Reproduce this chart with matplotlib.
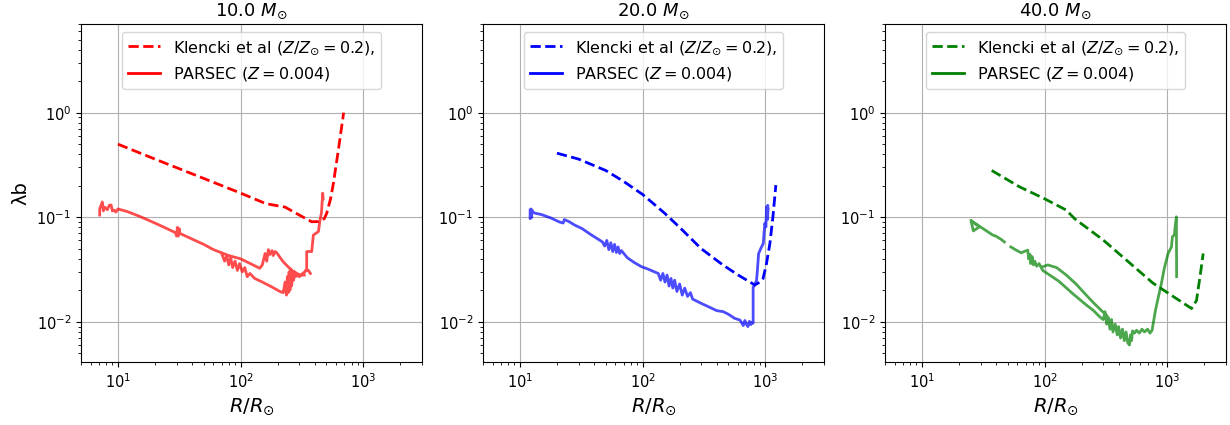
import numpy as np
import matplotlib
matplotlib.use("Agg")
import matplotlib.pyplot as plt

nan = np.nan

masses = [10.0, 20.0, 40.0]
colors = ["r", "b", "g"]

# Klencki et al curves
klencki_10_R = [10, 20, 50, 100, 160, 230, 300, 379, 430, 480, 502, 540, 569, 625, 690]
klencki_10_L = [0.5, 0.36, 0.235, 0.17, 0.135, 0.125, 0.105, 0.0905, 0.091, 0.097, 0.109, 0.15, 0.21, 0.44, 1.0]

klencki_20_R = [20, 30, 50, 70, 100, 150, 200, 300, 450, 600, 820, 900, 957, 1020, 1087, 1150, 1216]
klencki_20_L = [0.41, 0.36, 0.28, 0.22, 0.165, 0.11, 0.08, 0.05, 0.035, 0.028, 0.0225, 0.024, 0.026, 0.036, 0.056, 0.1, 0.203]

klencki_40_R = [37, 62, 100, 150, 175, 300, 500, 764, 1200, 1572, 1725, 1850, 1955]
klencki_40_L = [0.28, 0.196, 0.15, 0.117, 0.097, 0.0605, 0.036, 0.0234, 0.0165, 0.0134, 0.016, 0.028, 0.045]

# PARSEC curves (NaN separates disconnected pieces)
parsec_10_R = [7.1, 7.1, 7.46, 7.6, 7.8, 8.2, 8.5, 8.8, 9.0, 9.3, 9.6, 10, 12, 15, 20, 25, 29.5, 30, 30.5, 31, 31.5, 32,
               40, 50, 60, 80, 100, 120, 143, 150, 158, 163, 168, 173, 180, 184, 190, 196, 220, 260, 304, 330,
               nan,
               70, 74, 77, 80, 83, 86, 90, 94, 98, 103, 108, 113, 119, 130, 150, 180, 209, 222, 230, 236, 240,
               244, 248, 252, 256, 260, 265, 270, 275, 280, 290, 300, 320, 345, 345, 379, 391, 430, 443, 455, 466, 470,
               nan,
               340, 356, 370]
parsec_10_L = [0.105, 0.12, 0.14, 0.115, 0.125, 0.118, 0.13, 0.131, 0.115, 0.117, 0.112, 0.12, 0.113, 0.102, 0.088,
               0.078, 0.071, 0.066, 0.08, 0.066, 0.078, 0.07, 0.062, 0.055, 0.049, 0.043, 0.040, 0.036, 0.0325, 0.035,
               0.045, 0.038, 0.049, 0.044, 0.048, 0.043, 0.047, 0.046, 0.038, 0.031, 0.028, 0.028,
               nan,
               0.045, 0.038, 0.043, 0.035, 0.041, 0.033, 0.038, 0.031, 0.036, 0.030, 0.033, 0.027, 0.029, 0.026,
               0.024, 0.0215, 0.0195, 0.019, 0.024, 0.018, 0.027, 0.019, 0.030, 0.020, 0.032, 0.022, 0.029, 0.025,
               0.030, 0.027, 0.028, 0.027, 0.029, 0.031, 0.047, 0.047, 0.0675, 0.073, 0.094, 0.11, 0.17, 0.15,
               nan,
               0.031, 0.031, 0.029]

parsec_20_R = [12.1, 12.1, 12.5, 12.3, 13, 15, 18, 21, 22.5, 23, 25, 28, 32, 38, 44, 47, 49, 51, 53, 55, 57, 59,
               61, 63, 65, 67, 75, 85, 98, 110, 125, 134, 140, 146, 152, 158, 164, 170, 176, 182, 190, 200, 210,
               220, 232, 245, 255, 266, 300, 350, 400, 453, 500, 560, 619, 640, 660, 680, 700, 720, 740, 760, 780,
               794, 794, 810, 847, 860, 880, 929, 960, 988, 1010, 1021, 1035, 1045, 1040, 1050]
parsec_20_L = [0.117, 0.097, 0.10, 0.12, 0.11, 0.106, 0.098, 0.09, 0.088, 0.095, 0.091, 0.084, 0.078, 0.068, 0.061,
               0.058, 0.053, 0.060, 0.049, 0.057, 0.047, 0.055, 0.046, 0.052, 0.045, 0.048, 0.041, 0.037, 0.0336,
               0.032, 0.030, 0.029, 0.025, 0.029, 0.024, 0.028, 0.022, 0.026, 0.021, 0.025, 0.0195, 0.023, 0.018,
               0.021, 0.0175, 0.019, 0.0165, 0.0161, 0.015, 0.0138, 0.0128, 0.0125, 0.0118, 0.0108, 0.0104, 0.0098,
               0.0092, 0.0103, 0.0095, 0.009, 0.0101, 0.0094, 0.0099, 0.0097, 0.0216, 0.022, 0.025, 0.031, 0.045,
               0.052, 0.056, 0.0875, 0.081, 0.126, 0.11, 0.13, 0.095, 0.12]

parsec_40_R = [25.1, 26.2, 29.4, 25.3, 29.4, 33, 37.7, 40, 44.2, 47,
               nan,
               53, 58.5, 64.3, 68, 72.8, 74, 76, 77, 79, 81, 83, 86, 90, 96.4, 130, 170, 218, 250, 280, 300, 310,
               320, 330, 340, 350, 360, 375, 390, 400, 415, 430, 445, 460, 475, 490, 500, 510, 520, 540, 560, 590,
               620, 650, 690, 720, 750, 764, 800, 850, 893, 940, 1012, 1078, 1097, 1140, 1160, 1183, 1188,
               nan,
               96.4, 106, 125, 150, 180, 218, 250, 290, 320]
parsec_40_L = [0.093, 0.074, 0.081, 0.092, 0.082, 0.075, 0.0676, 0.066, 0.0614, 0.058,
               nan,
               0.052, 0.0485, 0.0457, 0.047, 0.0485, 0.040, 0.044, 0.036, 0.042, 0.035, 0.038, 0.034, 0.036, 0.031,
               0.0245, 0.0185, 0.0145, 0.0128, 0.0112, 0.0105, 0.0125, 0.0095, 0.011, 0.0085, 0.0105, 0.008, 0.0095,
               0.0075, 0.009, 0.007, 0.0085, 0.0066, 0.008, 0.0063, 0.006, 0.0075, 0.0066, 0.0082, 0.0078, 0.0083,
               0.0078, 0.0085, 0.008, 0.0085, 0.0078, 0.0083, 0.0095, 0.013, 0.018, 0.0233, 0.032, 0.045, 0.052,
               0.065, 0.068, 0.085, 0.101, 0.027,
               nan,
               0.0336, 0.035, 0.033, 0.028, 0.023, 0.018, 0.0152, 0.0128, 0.0115]

klencki_R = [klencki_10_R, klencki_20_R, klencki_40_R]
klencki_L = [klencki_10_L, klencki_20_L, klencki_40_L]
parsec_R = [parsec_10_R, parsec_20_R, parsec_40_R]
parsec_L = [parsec_10_L, parsec_20_L, parsec_40_L]

fig, axes = plt.subplots(1, 3, figsize=(12.3, 4.25), dpi=100)
fig.subplots_adjust(left=81/1230, right=1226/1230, top=1-24.3/425, bottom=1-362.3/425, wspace=0.179)

for i, ax in enumerate(axes):
    c = colors[i]
    ax.plot(klencki_R[i], klencki_L[i], "--", color=c, lw=2,
            label=r"Klencki et al ($Z/Z_{\odot}=0.2$),")
    ax.plot(parsec_R[i], parsec_L[i], "-", color=c, lw=2, alpha=0.7,
            label=r"PARSEC ($Z=0.004$)")
    ax.set_xscale("log")
    ax.set_yscale("log")
    ax.set_xlim(5, 3000)
    ax.set_ylim(4.1e-3, 7)
    ax.grid(True)
    ax.set_title(r"%.1f $M_{\odot}$" % masses[i], fontsize=13)
    ax.set_xlabel(r"$R/R_{\odot}$", fontsize=14)
    ax.tick_params(labelsize=10.5)
    leg = ax.legend(loc="upper center", fontsize=11.5)
    for h in leg.legend_handles:
        h.set_alpha(1)
axes[0].set_ylabel("λb", fontsize=14)

fig.savefig("out.png", dpi=100)
